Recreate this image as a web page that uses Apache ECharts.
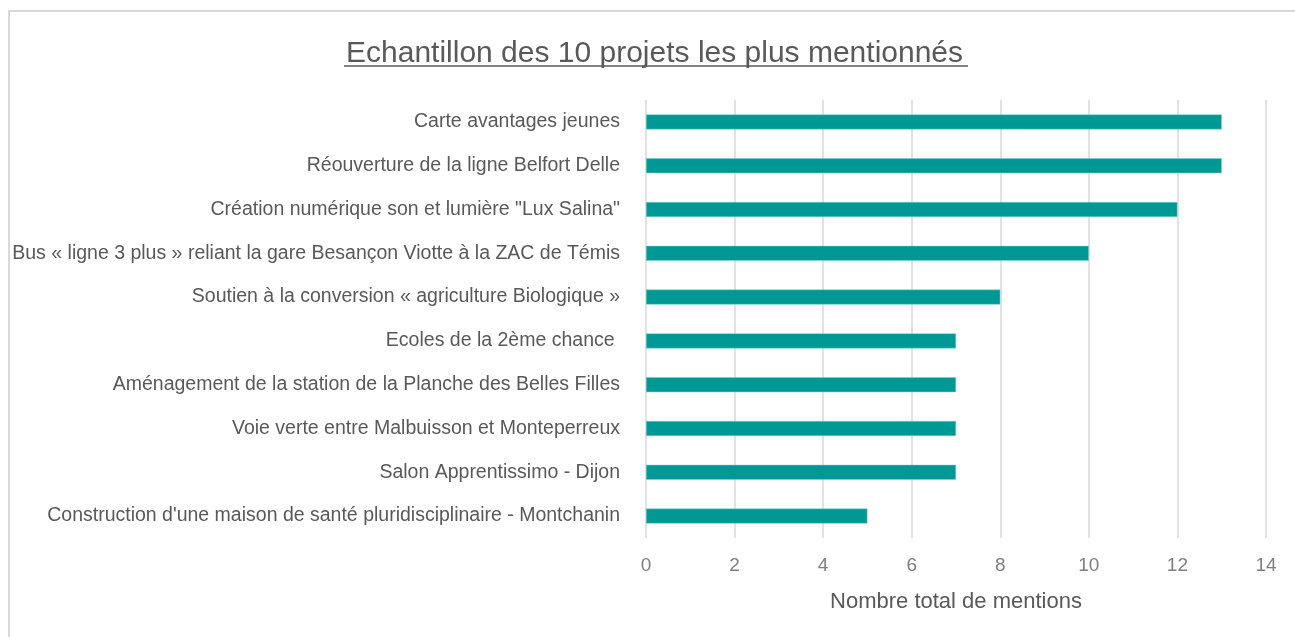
<!DOCTYPE html>
<html>
<head>
<meta charset="utf-8">
<script src="https://cdn.jsdelivr.net/npm/echarts@6/dist/echarts.min.js"></script>
<style>
  html, body { margin: 0; padding: 0; background: #fff; }
  #chart { width: 1295px; height: 637px; }
</style>
</head>
<body>
<div id="chart"></div>
<script>
const projets = [
  'Carte avantages jeunes',
  'Réouverture de la ligne Belfort Delle',
  'Création numérique son et lumière "Lux Salina"',
  'Bus « ligne 3 plus » reliant la gare Besançon Viotte à la ZAC de Témis',
  'Soutien à la conversion « agriculture Biologique »',
  'Ecoles de la 2ème chance ',
  'Aménagement de la station de la Planche des Belles Filles',
  'Voie verte entre Malbuisson et Monteperreux',
  'Salon Apprentissimo - Dijon',
  "Construction d'une maison de santé pluridisciplinaire - Montchanin"
]
const mentions = [13, 13, 12, 10, 8, 7, 7, 7, 7, 5]

const font = 'Liberation Sans'
const chart = echarts.init(document.getElementById('chart'))

chart.setOption({
  animation: false,
  title: {
    text: 'Echantillon des 10 projets les plus mentionnés',
    left: 341,
    top: 34,
    textStyle: { fontFamily: font, fontSize: 30, fontWeight: 'normal', color: '#595959' }
  },
  graphic: [
    {
      type: 'rect',
      shape: { x: 9, y: 11, width: 1300, height: 640 },
      style: { fill: 'none', stroke: '#d9d9d9', lineWidth: 2 }
    },
    {
      type: 'line',
      shape: { x1: 344, y1: 66, x2: 968, y2: 66 },
      style: { stroke: '#595959', lineWidth: 1.5 }
    }
  ],
  grid: { left: 646, right: 29, top: 100, bottom: 99 },
  xAxis: {
    type: 'value',
    min: 0,
    max: 14,
    interval: 2,
    name: 'Nombre total de mentions',
    nameLocation: 'middle',
    nameGap: 53,
    nameTextStyle: { fontFamily: font, fontSize: 22, color: '#595959' },
    axisLine: { show: false },
    axisTick: { show: false },
    axisLabel: { fontFamily: font, fontSize: 19, color: '#7f7f7f', margin: 18 },
    splitLine: { lineStyle: { color: '#d9d9d9', width: 1.5 } }
  },
  yAxis: {
    type: 'category',
    data: projets,
    inverse: true,
    axisLine: { show: false },
    axisTick: { show: false },
    axisLabel: { fontFamily: font, fontSize: 19.5, color: '#595959', margin: 26, padding: [3, 0, 0, 0] }
  },
  series: [{
    type: 'bar',
    data: mentions,
    barWidth: 15,
    itemStyle: { color: '#009894', borderColor: '#7fd3cf', borderWidth: 0.5 }
  }]
})
</script>
</body>
</html>
